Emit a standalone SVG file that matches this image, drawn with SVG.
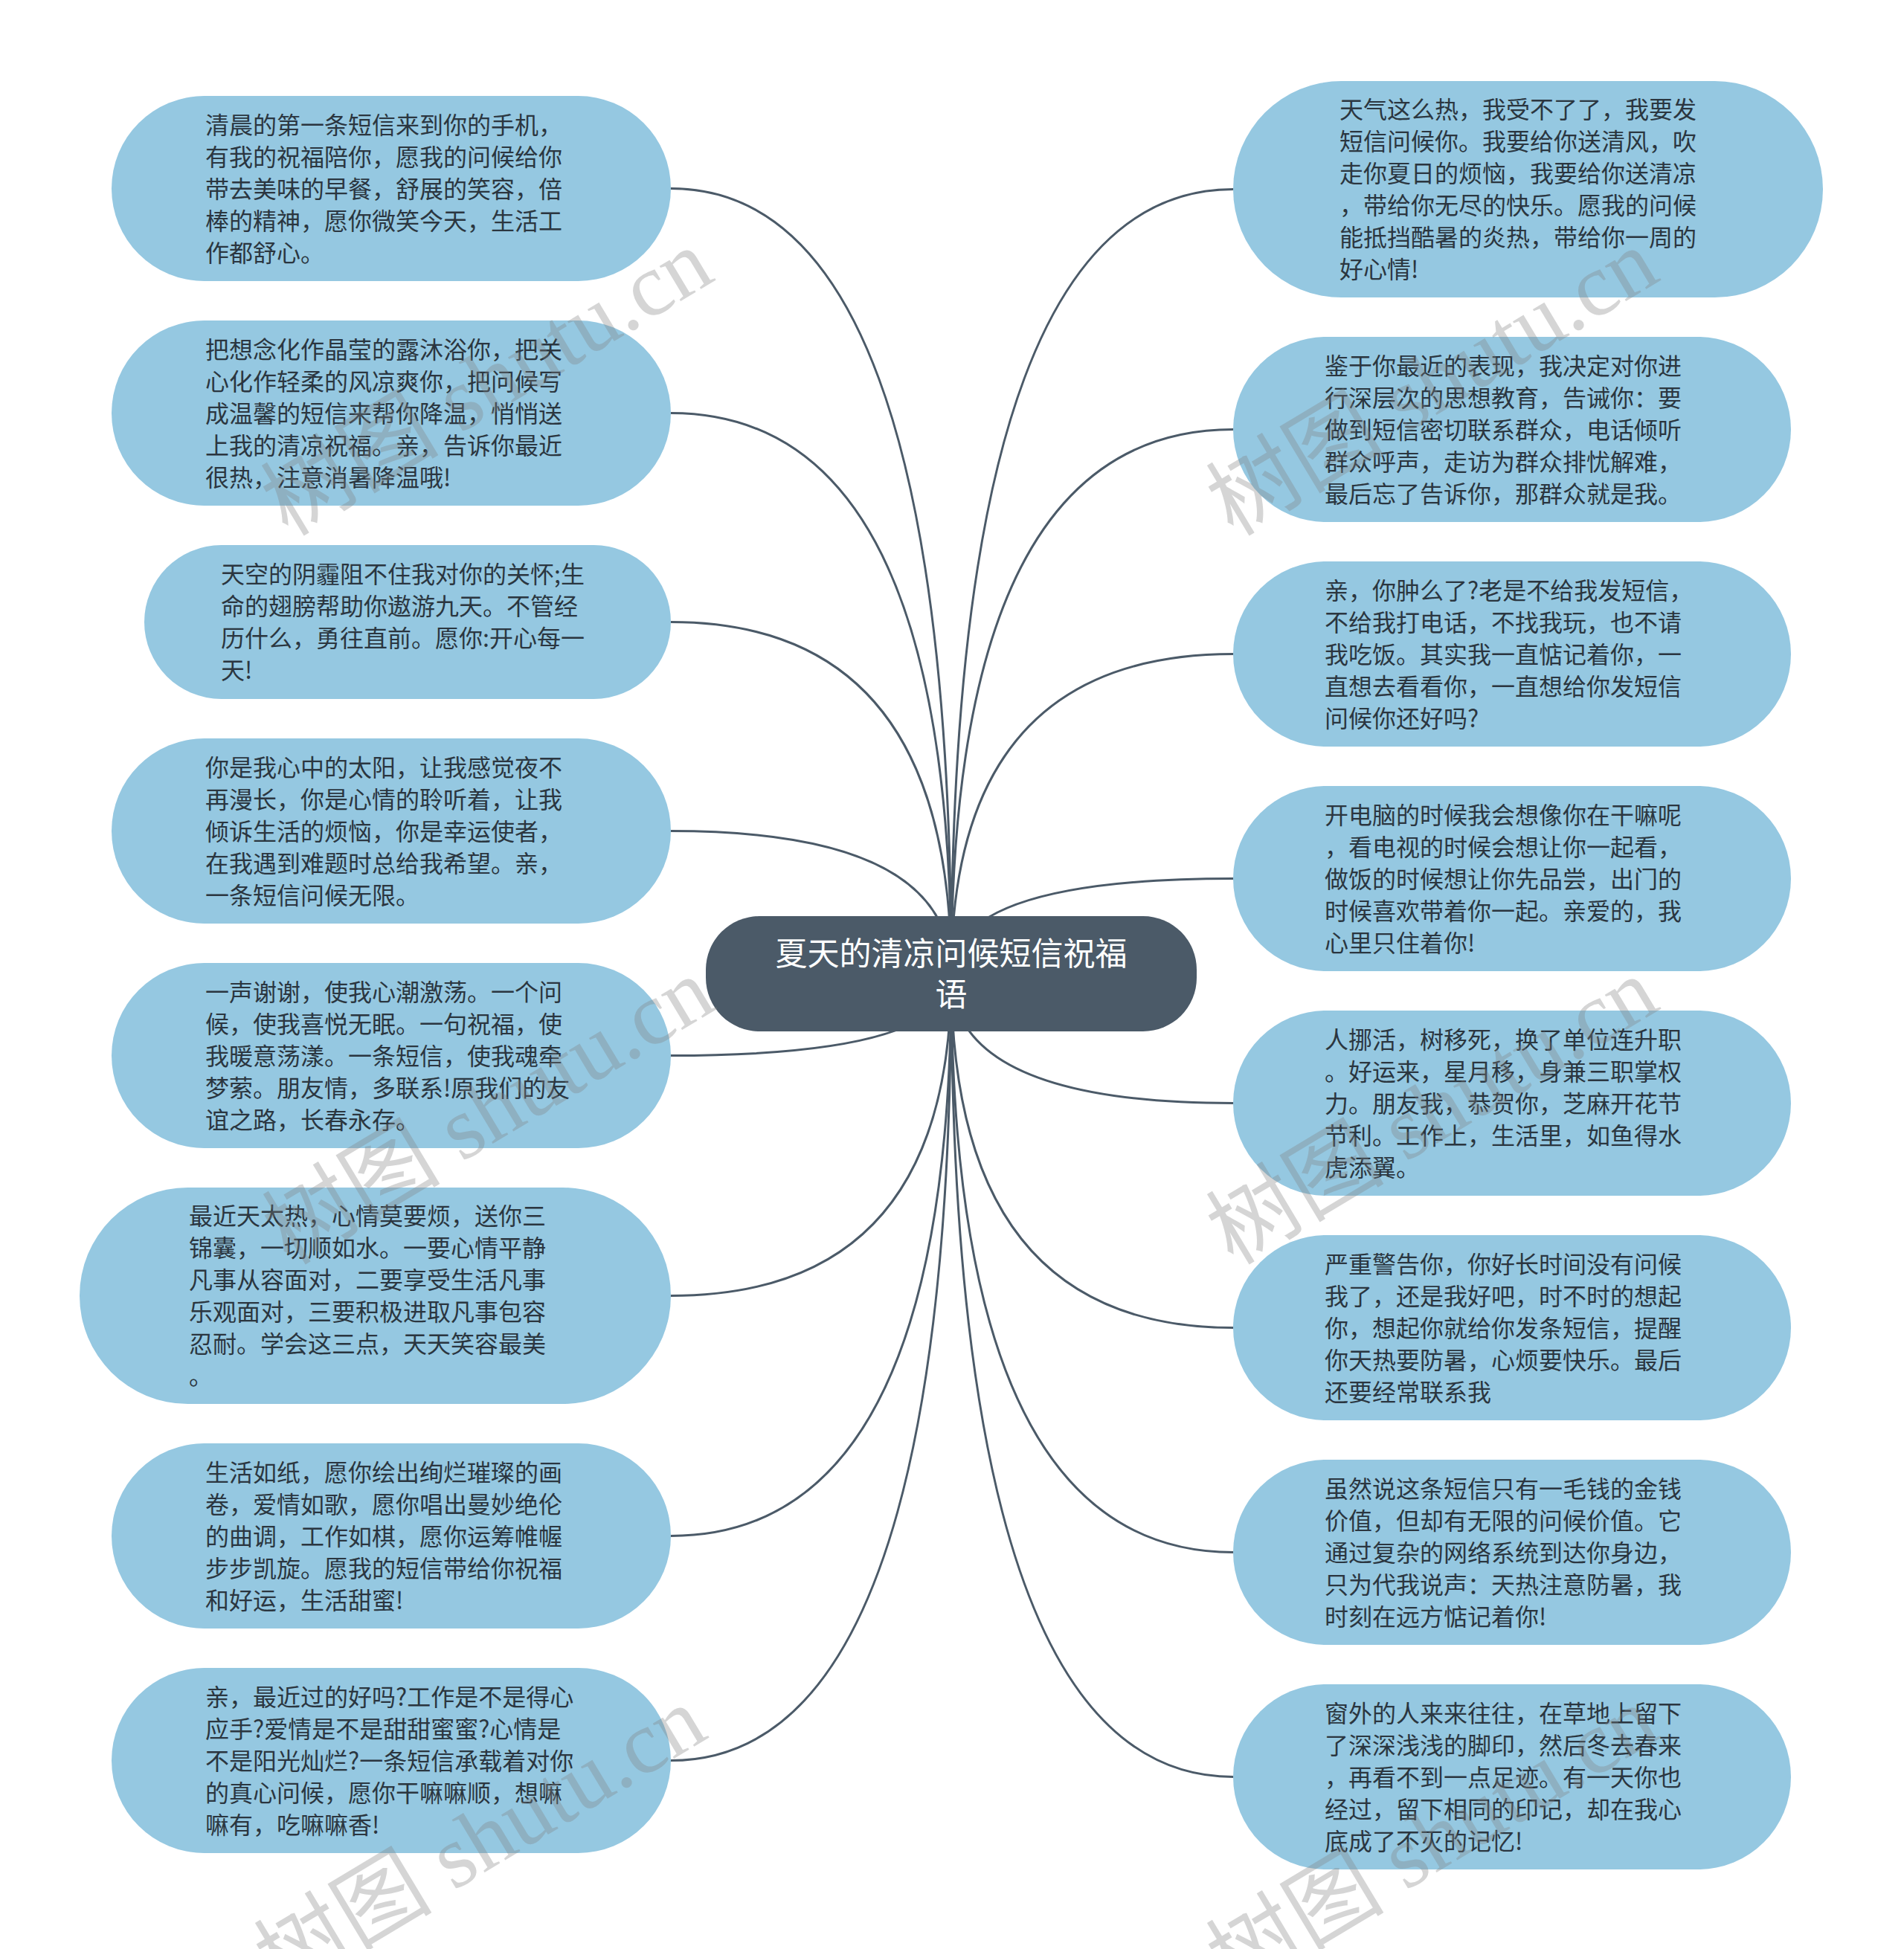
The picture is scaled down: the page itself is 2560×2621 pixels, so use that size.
<svg xmlns="http://www.w3.org/2000/svg" width="2560" height="2621" viewBox="0 0 2560 2621">
<style>
.node{fill:#95c8e1;}
.t{font-family:"Noto Sans CJK SC","Noto Sans",sans-serif;font-size:32px;fill:#2b3640;}
.ct{font-family:"Noto Sans CJK SC","Noto Sans",sans-serif;font-size:43px;fill:#ffffff;text-anchor:middle;}
.link{fill:none;stroke:#4b5a68;stroke-width:3;}
.wm{font-family:"Liberation Serif","Noto Sans CJK SC",serif;font-size:120px;fill:#808080;fill-opacity:0.33;text-anchor:middle;}
</style>
<rect width="2560" height="2621" fill="#ffffff"/>
<g id="connectors">
<path class="link" d="M1279 1310 Q1279 253.5 902 253.5"/>
<path class="link" d="M1279 1310 Q1279 555.5 902 555.5"/>
<path class="link" d="M1279 1310 Q1279 836.5 902 836.5"/>
<path class="link" d="M1279 1310 Q1279 1117.5 902 1117.5"/>
<path class="link" d="M1279 1310 Q1279 1419.5 902 1419.5"/>
<path class="link" d="M1279 1310 Q1279 1742.5 902 1742.5"/>
<path class="link" d="M1279 1310 Q1279 2065.5 902 2065.5"/>
<path class="link" d="M1279 1310 Q1279 2367.5 902 2367.5"/>
<path class="link" d="M1279 1310 Q1279 254.5 1658 254.5"/>
<path class="link" d="M1279 1310 Q1279 577.5 1658 577.5"/>
<path class="link" d="M1279 1310 Q1279 879.5 1658 879.5"/>
<path class="link" d="M1279 1310 Q1279 1181.5 1658 1181.5"/>
<path class="link" d="M1279 1310 Q1279 1483.5 1658 1483.5"/>
<path class="link" d="M1279 1310 Q1279 1785.5 1658 1785.5"/>
<path class="link" d="M1279 1310 Q1279 2087.5 1658 2087.5"/>
<path class="link" d="M1279 1310 Q1279 2389.5 1658 2389.5"/>
</g>
<g id="center">
<rect x="949" y="1232" width="660" height="155" rx="72" ry="72" fill="#4b5a68"/>
<text class="ct"><tspan x="1279" y="1298">夏天的清凉问候短信祝福</tspan><tspan x="1279" y="1353">语</tspan></text>
</g>
<g id="L1">
<rect class="node" x="150" y="129" width="752" height="249" rx="124.5"/>
<text class="t"><tspan x="276" y="179.5">清晨的第一条短信来到你的手机，</tspan><tspan x="276" dy="43">有我的祝福陪你，愿我的问候给你</tspan><tspan x="276" dy="43">带去美味的早餐，舒展的笑容，倍</tspan><tspan x="276" dy="43">棒的精神，愿你微笑今天，生活工</tspan><tspan x="276" dy="43">作都舒心。</tspan></text>
</g>
<g id="L2">
<rect class="node" x="150" y="431" width="752" height="249" rx="124.5"/>
<text class="t"><tspan x="276" y="481.5">把想念化作晶莹的露沐浴你，把关</tspan><tspan x="276" dy="43">心化作轻柔的风凉爽你，把问候写</tspan><tspan x="276" dy="43">成温馨的短信来帮你降温，悄悄送</tspan><tspan x="276" dy="43">上我的清凉祝福。亲，告诉你最近</tspan><tspan x="276" dy="43">很热，注意消暑降温哦!</tspan></text>
</g>
<g id="L3">
<rect class="node" x="194" y="733" width="708" height="207" rx="103.5"/>
<text class="t"><tspan x="297" y="784">天空的阴霾阻不住我对你的关怀;生</tspan><tspan x="297" dy="43">命的翅膀帮助你遨游九天。不管经</tspan><tspan x="297" dy="43">历什么，勇往直前。愿你:开心每一</tspan><tspan x="297" dy="43">天!</tspan></text>
</g>
<g id="L4">
<rect class="node" x="150" y="993" width="752" height="249" rx="124.5"/>
<text class="t"><tspan x="276" y="1043.5">你是我心中的太阳，让我感觉夜不</tspan><tspan x="276" dy="43">再漫长，你是心情的聆听着，让我</tspan><tspan x="276" dy="43">倾诉生活的烦恼，你是幸运使者，</tspan><tspan x="276" dy="43">在我遇到难题时总给我希望。亲，</tspan><tspan x="276" dy="43">一条短信问候无限。</tspan></text>
</g>
<g id="L5">
<rect class="node" x="150" y="1295" width="752" height="249" rx="124.5"/>
<text class="t"><tspan x="276" y="1345.5">一声谢谢，使我心潮激荡。一个问</tspan><tspan x="276" dy="43">候，使我喜悦无眠。一句祝福，使</tspan><tspan x="276" dy="43">我暖意荡漾。一条短信，使我魂牵</tspan><tspan x="276" dy="43">梦萦。朋友情，多联系!原我们的友</tspan><tspan x="276" dy="43">谊之路，长春永存。</tspan></text>
</g>
<g id="L6">
<rect class="node" x="107" y="1597" width="795" height="291" rx="145.5"/>
<text class="t"><tspan x="254" y="1647">最近天太热，心情莫要烦，送你三</tspan><tspan x="254" dy="43">锦囊，一切顺如水。一要心情平静</tspan><tspan x="254" dy="43">凡事从容面对，二要享受生活凡事</tspan><tspan x="254" dy="43">乐观面对，三要积极进取凡事包容</tspan><tspan x="254" dy="43">忍耐。学会这三点，天天笑容最美</tspan><tspan x="254" dy="43">。</tspan></text>
</g>
<g id="L7">
<rect class="node" x="150" y="1941" width="752" height="249" rx="124.5"/>
<text class="t"><tspan x="276" y="1991.5">生活如纸，愿你绘出绚烂璀璨的画</tspan><tspan x="276" dy="43">卷，爱情如歌，愿你唱出曼妙绝伦</tspan><tspan x="276" dy="43">的曲调，工作如棋，愿你运筹帷幄</tspan><tspan x="276" dy="43">步步凯旋。愿我的短信带给你祝福</tspan><tspan x="276" dy="43">和好运，生活甜蜜!</tspan></text>
</g>
<g id="L8">
<rect class="node" x="150" y="2243" width="752" height="249" rx="124.5"/>
<text class="t"><tspan x="276" y="2293.5">亲，最近过的好吗?工作是不是得心</tspan><tspan x="276" dy="43">应手?爱情是不是甜甜蜜蜜?心情是</tspan><tspan x="276" dy="43">不是阳光灿烂?一条短信承载着对你</tspan><tspan x="276" dy="43">的真心问候，愿你干嘛嘛顺，想嘛</tspan><tspan x="276" dy="43">嘛有，吃嘛嘛香!</tspan></text>
</g>
<g id="R1">
<rect class="node" x="1658" y="109" width="793" height="291" rx="145.5"/>
<text class="t"><tspan x="1801" y="159">天气这么热，我受不了了，我要发</tspan><tspan x="1801" dy="43">短信问候你。我要给你送清风，吹</tspan><tspan x="1801" dy="43">走你夏日的烦恼，我要给你送清凉</tspan><tspan x="1801" dy="43">，带给你无尽的快乐。愿我的问候</tspan><tspan x="1801" dy="43">能抵挡酷暑的炎热，带给你一周的</tspan><tspan x="1801" dy="43">好心情!</tspan></text>
</g>
<g id="R2">
<rect class="node" x="1658" y="453" width="750" height="249" rx="124.5"/>
<text class="t"><tspan x="1781" y="503.5">鉴于你最近的表现，我决定对你进</tspan><tspan x="1781" dy="43">行深层次的思想教育，告诫你：要</tspan><tspan x="1781" dy="43">做到短信密切联系群众，电话倾听</tspan><tspan x="1781" dy="43">群众呼声，走访为群众排忧解难，</tspan><tspan x="1781" dy="43">最后忘了告诉你，那群众就是我。</tspan></text>
</g>
<g id="R3">
<rect class="node" x="1658" y="755" width="750" height="249" rx="124.5"/>
<text class="t"><tspan x="1781" y="805.5">亲，你肿么了?老是不给我发短信，</tspan><tspan x="1781" dy="43">不给我打电话，不找我玩，也不请</tspan><tspan x="1781" dy="43">我吃饭。其实我一直惦记着你，一</tspan><tspan x="1781" dy="43">直想去看看你，一直想给你发短信</tspan><tspan x="1781" dy="43">问候你还好吗?</tspan></text>
</g>
<g id="R4">
<rect class="node" x="1658" y="1057" width="750" height="249" rx="124.5"/>
<text class="t"><tspan x="1781" y="1107.5">开电脑的时候我会想像你在干嘛呢</tspan><tspan x="1781" dy="43">，看电视的时候会想让你一起看，</tspan><tspan x="1781" dy="43">做饭的时候想让你先品尝，出门的</tspan><tspan x="1781" dy="43">时候喜欢带着你一起。亲爱的，我</tspan><tspan x="1781" dy="43">心里只住着你!</tspan></text>
</g>
<g id="R5">
<rect class="node" x="1658" y="1359" width="750" height="249" rx="124.5"/>
<text class="t"><tspan x="1781" y="1409.5">人挪活，树移死，换了单位连升职</tspan><tspan x="1781" dy="43">。好运来，星月移，身兼三职掌权</tspan><tspan x="1781" dy="43">力。朋友我，恭贺你，芝麻开花节</tspan><tspan x="1781" dy="43">节利。工作上，生活里，如鱼得水</tspan><tspan x="1781" dy="43">虎添翼。</tspan></text>
</g>
<g id="R6">
<rect class="node" x="1658" y="1661" width="750" height="249" rx="124.5"/>
<text class="t"><tspan x="1781" y="1711.5">严重警告你，你好长时间没有问候</tspan><tspan x="1781" dy="43">我了，还是我好吧，时不时的想起</tspan><tspan x="1781" dy="43">你，想起你就给你发条短信，提醒</tspan><tspan x="1781" dy="43">你天热要防暑，心烦要快乐。最后</tspan><tspan x="1781" dy="43">还要经常联系我</tspan></text>
</g>
<g id="R7">
<rect class="node" x="1658" y="1963" width="750" height="249" rx="124.5"/>
<text class="t"><tspan x="1781" y="2013.5">虽然说这条短信只有一毛钱的金钱</tspan><tspan x="1781" dy="43">价值，但却有无限的问候价值。它</tspan><tspan x="1781" dy="43">通过复杂的网络系统到达你身边，</tspan><tspan x="1781" dy="43">只为代我说声：天热注意防暑，我</tspan><tspan x="1781" dy="43">时刻在远方惦记着你!</tspan></text>
</g>
<g id="R8">
<rect class="node" x="1658" y="2265" width="750" height="249" rx="124.5"/>
<text class="t"><tspan x="1781" y="2315.5">窗外的人来来往往，在草地上留下</tspan><tspan x="1781" dy="43">了深深浅浅的脚印，然后冬去春来</tspan><tspan x="1781" dy="43">，再看不到一点足迹。有一天你也</tspan><tspan x="1781" dy="43">经过，留下相同的印记，却在我心</tspan><tspan x="1781" dy="43">底成了不灭的记忆!</tspan></text>
</g>
<g id="watermarks">
<text class="wm" x="654" y="555" transform="rotate(-31 654 513)">树图 shutu.cn</text>
<text class="wm" x="1925" y="555" transform="rotate(-31 1925 513)">树图 shutu.cn</text>
<text class="wm" x="656" y="1535" transform="rotate(-31 656 1493)">树图 shutu.cn</text>
<text class="wm" x="1925" y="1535" transform="rotate(-31 1925 1493)">树图 shutu.cn</text>
<text class="wm" x="645" y="2515" transform="rotate(-31 645 2473)">树图 shutu.cn</text>
<text class="wm" x="1925" y="2515" transform="rotate(-31 1925 2473)">树图 shutu.cn</text>
</g>
</svg>
